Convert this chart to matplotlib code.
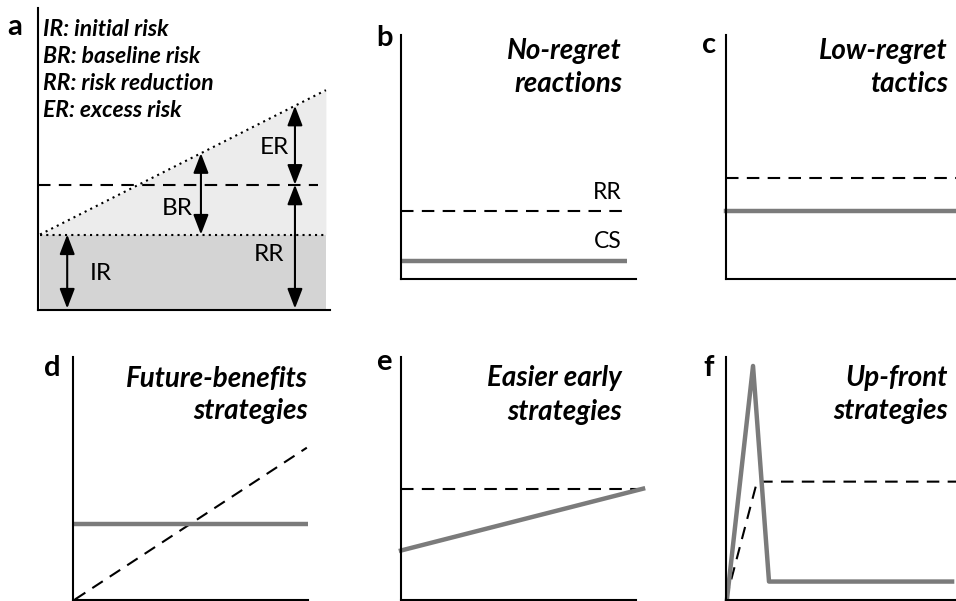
import matplotlib.pyplot as plt
import numpy as np

plt.rcParams['font.family'] = ['Lato', 'DejaVu Sans']

W, H = 956, 601

# panel a: risk schematic (panel units 0-10)
ramp_x = [0.07, 9.86]
ramp_y = [2.5, 7.28]
ir_level = 2.5
rr_level = 4.15
rr_end = 9.6
arrow_ir_x = 1.0
arrow_br_x = 5.58
arrow_er_x = 8.8
legend_lines = ['IR: initial risk', 'BR: baseline risk', 'RR: risk reduction', 'ER: excess risk']

# panel b
b_x = [0, 9.62]
b_dash = [2.79, 2.79]
b_solid = [0.74, 0.74]
# panel c
c_x = [0, 10.5]
c_dash = [4.14, 4.14]
c_solid = [2.79, 2.79]
# panel d
d_x = [0.08, 9.95]
d_dash = [0, 6.26]
d_solid = [3.13, 3.13]
# panel e
e_x = [0, 10.3]
e_dash = [4.57, 4.57]
e_solid = [2.02, 4.57]
# panel f
f_solid_x = [0.04, 1.15, 1.83, 9.62]
f_solid_y = [0, 9.63, 0.74, 0.74]
f_dash_x = [0, 1.32, 10.5]
f_dash_y = [0, 4.86, 4.86]

titles = {'b': ['No-regret', 'reactions'], 'c': ['Low-regret', 'tactics'],
          'd': ['Future-benefits', 'strategies'], 'e': ['Easier early', 'strategies'],
          'f': ['Up-front', 'strategies']}

GRAY = '#7b7b7b'
DASH = (0, (6, 4))
DOT = (0, (1, 2))

fig = plt.figure(figsize=(W / 100, H / 100), dpi=100)


def px(x, y):
    return x / W, 1 - y / H


def make_ax(x0, y0, x1, y1):
    ax = fig.add_axes([x0 / W, 1 - y1 / H, (x1 - x0) / W, (y1 - y0) / H])
    ax.set_xlim(0, 10)
    ax.set_ylim(0, 10)
    for s in ['top', 'right']:
        ax.spines[s].set_visible(False)
    for s in ['left', 'bottom']:
        ax.spines[s].set_linewidth(1.5)
    ax.set_xticks([])
    ax.set_yticks([])
    ax.patch.set_alpha(0)
    return ax


def ftext(x, y, s, size, ha='left', **kw):
    fig.text(*px(x, y), s, fontsize=size, ha=ha, va='baseline', **kw)


def darrow(ax, x, y0, y1):
    ax.annotate('', xy=(x, y1), xytext=(x, y0),
                arrowprops=dict(arrowstyle='<|-|>,head_length=0.6,head_width=0.23',
                                lw=1.5, color='k', mutation_scale=20,
                                shrinkA=0, shrinkB=0))


# ---- panel a
ax = make_ax(38, 8, 330, 310)
ax.fill_between(ramp_x, [ir_level, ir_level], ramp_y, color='#ececec', lw=0)
ax.fill_between(ramp_x, 0, ir_level, color='#d4d4d4', lw=0)
ax.plot(ramp_x, ramp_y, color='k', lw=1.5, ls=DOT)
ax.plot(ramp_x, [ir_level, ir_level], color='k', lw=1.5, ls=DOT)
ax.plot([0, rr_end], [rr_level, rr_level], color='k', lw=1.5, ls=DASH)
darrow(ax, arrow_ir_x, 0.05, ir_level)
darrow(ax, arrow_br_x, ir_level, np.interp(arrow_br_x, ramp_x, ramp_y))
darrow(ax, arrow_er_x, rr_level, np.interp(arrow_er_x, ramp_x, ramp_y))
darrow(ax, arrow_er_x, 0.05, rr_level)
for i, line in enumerate(legend_lines):
    ftext(43, 36 + 27 * i, line, 16.5, weight='bold', style='italic')
ftext(274, 154, 'ER', 17.5, ha='center')
ftext(177, 215, 'BR', 17.5, ha='center')
ftext(269, 261, 'RR', 17.5, ha='center')
ftext(101, 280, 'IR', 17.5, ha='center')
ftext(15, 35, 'a', 21, ha='center', weight='bold')

# ---- panel b
ax = make_ax(401, 35, 636, 279)
ax.plot(b_x, b_dash, color='k', lw=1.5, ls=DASH)
ax.plot(b_x, b_solid, color=GRAY, lw=3.2, solid_capstyle='butt')
ftext(622, 199, 'RR', 16.5, ha='right')
ftext(622, 248, 'CS', 16.5, ha='right')

# ---- panel c
ax = make_ax(726, 35, 961, 279)
ax.plot(c_x, c_dash, color='k', lw=1.5, ls=DASH, clip_on=False)
ax.plot(c_x, c_solid, color=GRAY, lw=3.2, clip_on=False)

# ---- panel d
ax = make_ax(73, 357, 308, 599.5)
ax.plot(d_x, d_dash, color='k', lw=1.5, ls=DASH)
ax.plot([0, d_x[1]], d_solid, color=GRAY, lw=3.2)

# ---- panel e
ax = make_ax(401, 357, 636, 599.5)
ax.plot(e_x, e_dash, color='k', lw=1.5, ls=DASH, clip_on=False)
ax.plot(e_x, e_solid, color=GRAY, lw=3.2, clip_on=False)

# ---- panel f
ax = make_ax(726, 357, 961, 599.5)
ax.plot(f_dash_x, f_dash_y, color='k', lw=1.5, ls=DASH, clip_on=False)
ax.plot(f_solid_x, f_solid_y, color=GRAY, lw=3.2, clip_on=False)

# titles and panel letters
title_pos = {'b': (622, 59, 92), 'c': (948, 59, 92), 'd': (308, 387, 419),
             'e': (622, 386, 420), 'f': (948, 386, 419)}
letter_pos = {'b': (384, 46), 'c': (709, 53), 'd': (52, 376), 'e': (384, 370), 'f': (709, 376)}
for k, (x, y1, y2) in title_pos.items():
    ftext(x, y1, titles[k][0], 20, ha='right', weight='bold', style='italic')
    ftext(x, y2, titles[k][1], 20, ha='right', weight='bold', style='italic')
    lx, ly = letter_pos[k]
    ftext(lx, ly, k, 21, ha='center', weight='bold')

fig.savefig('out.png', dpi=100)
